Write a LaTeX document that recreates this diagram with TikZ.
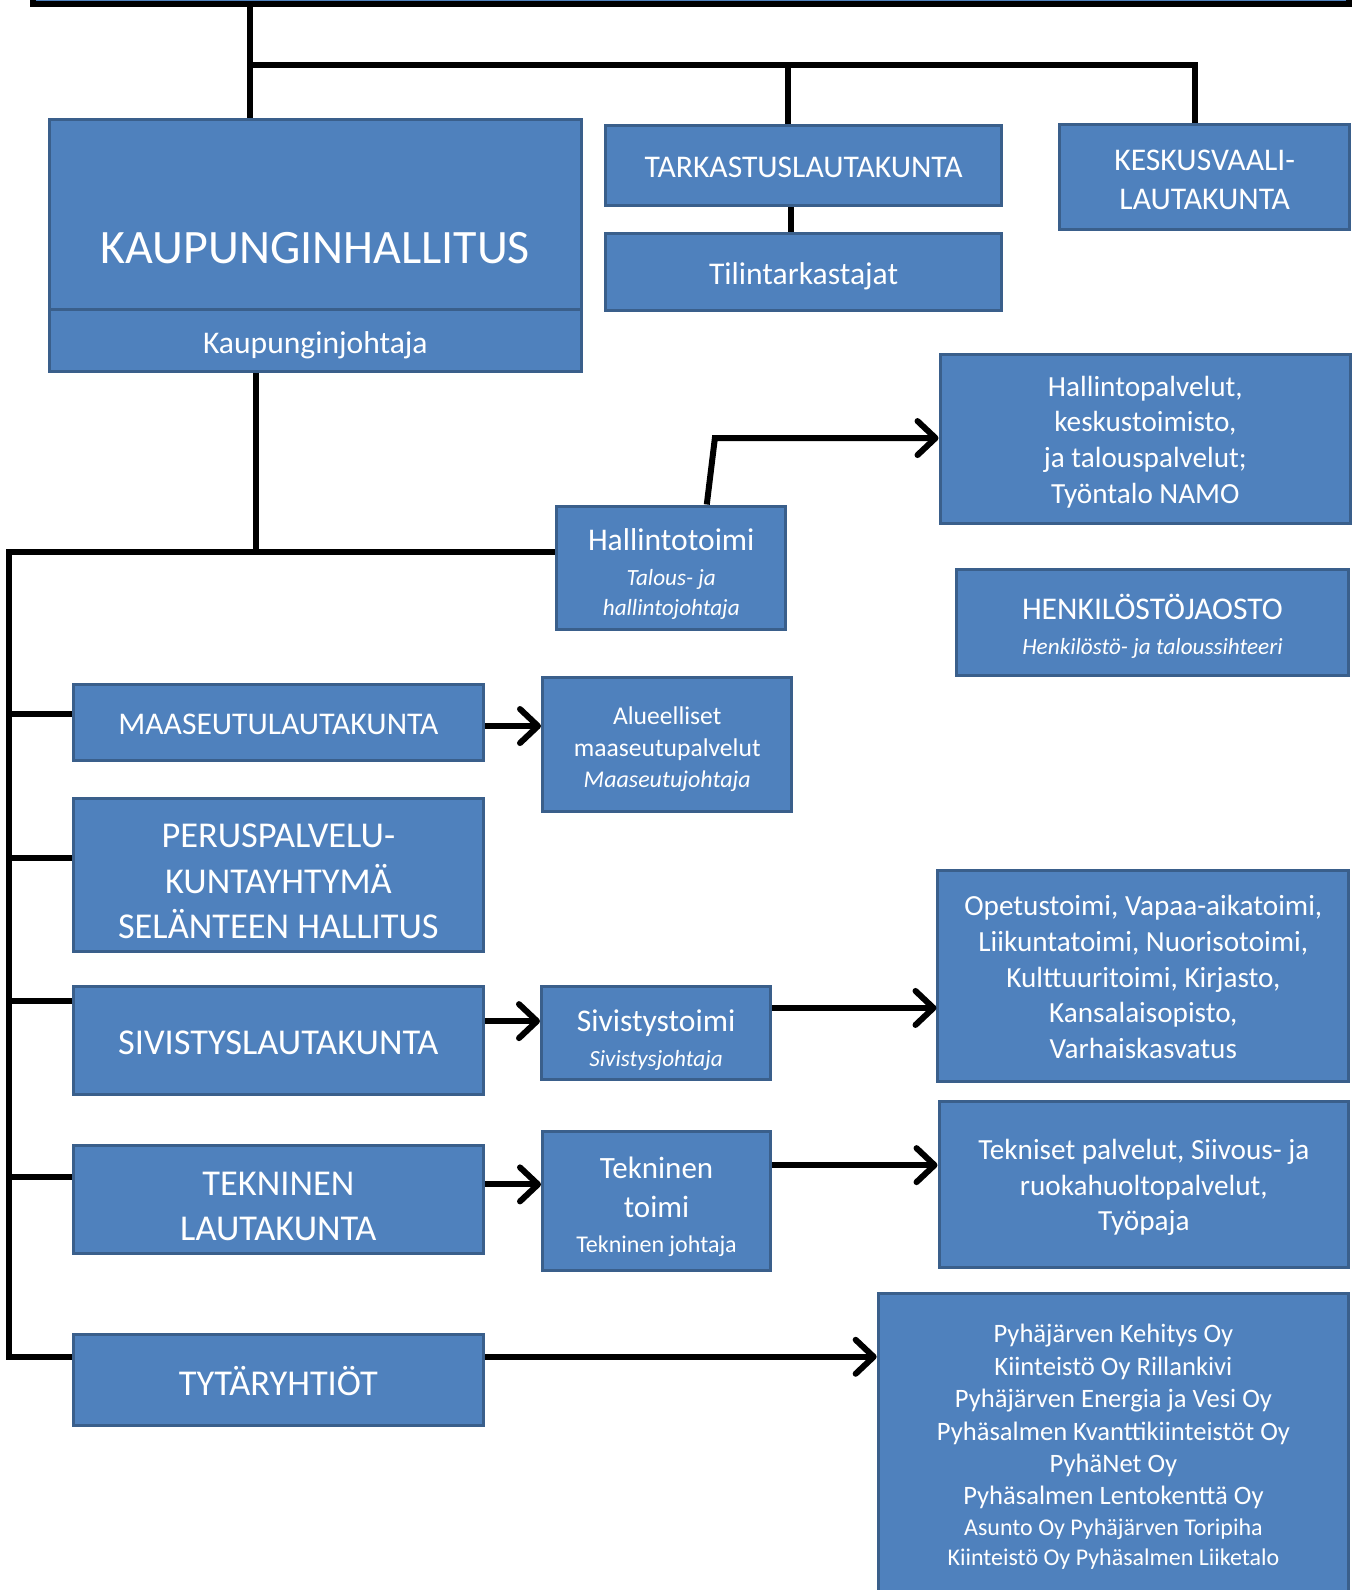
\documentclass[tikz,border=0pt]{standalone}
\usepackage{fontspec}
\setmainfont{Carlito}
\usetikzlibrary{arrows.meta}
\definecolor{boxfill}{HTML}{4F81BD}
\definecolor{boxedge}{HTML}{3A5F8B}
\newcommand\pxu{0.5071pt}
\newcommand\fsz[2]{\fontsize{#1}{#2}\selectfont}
\newcommand\sm{\itshape\fsz{11.6}{14.7}}
\tikzset{
  box/.style={draw=boxedge, line width=1.5pt, fill=boxfill, inner sep=0pt},
  lbl/.style={text=white, align=center, inner sep=0pt},
  wh/.style 2 args={minimum width=#1*\pxu, minimum height=#2*\pxu},
  conn/.style={line width=3pt},
  arr/.style={conn, -{Straight Barb[length=9pt,width=17pt,round]}},
  fkh/.style={font=\fsz{24}{28}},
  fbig/.style={font=\fsz{18.2}{22.8}},
  fmid/.style={font=\fsz{15.8}{19.3}},
  flist/.style={font=\fsz{14.6}{17.9}},
}
\begin{document}
\begin{tikzpicture}[x=0.5071pt, y=-0.5071pt]
\useasboundingbox (0,0) rectangle (1336,1568);
\node[box, draw=black, line width=3pt, wh={1297}{40}] (top) at (681.5,-16) {};
\node[box, wh={524}{248}, label={[lbl, fkh, yshift=-1.3pt]center:KAUPUNGINHALLITUS}] (kh) at (311,242) {};
\node[box, wh={524}{61}, label={[lbl, fmid, yshift=-2.5pt]center:Kaupunginjohtaja}] (kj) at (311,335.5) {};
\node[box, wh={391}{79}, label={[lbl, fmid, yshift=-1pt]center:TARKASTUSLAUTAKUNTA}] (tark) at (792.5,163.5) {};
\node[box, wh={391}{76}, label={[lbl, fmid, yshift=-2pt]center:Tilintarkastajat}] (tilin) at (792.5,268) {};
\node[box, wh={286}{103}, label={[lbl, fmid, yshift=-1.5pt]center:{KESKUSVAALI-\\LAUTAKUNTA}}] (kesk) at (1188,174.5) {};
\node[box, wh={405}{166}, label={[lbl, flist, yshift=-1.5pt]center:{Hallintopalvelut,\\keskustoimisto,\\ja talouspalvelut;\\Työntalo NAMO}}] (hpalv) at (1129.5,433) {};
\node[box, wh={226}{122}, label={[lbl, font=\fsz{15.8}{14.7}, yshift=-3pt]center:{Hallintotoimi\\[3pt]{\sm Talous- ja}\\{\sm hallintojohtaja}}}] (hallinto) at (662,560) {};
\node[box, wh={387}{104}, label={[lbl, font=\fsz{15.8}{17.7}, yshift=-2pt]center:{HENKILÖSTÖJAOSTO\\{\sm Henkilöstö- ja taloussihteeri}}}] (henk) at (1136.5,614) {};
\node[box, wh={405}{75}, label={[lbl, fmid, yshift=-1pt]center:MAASEUTULAUTAKUNTA}] (maaseutu) at (274.5,712.5) {};
\node[box, wh={246}{132}, label={[lbl, font=\fsz{12.8}{15.9}, yshift=-2.5pt]center:{Alueelliset\\maaseutupalvelut\\{\itshape\fsz{12}{15}Maaseutujohtaja}}}] (alue) at (658,734) {};
\node[box, wh={405}{151}, label={[lbl, fbig, yshift=-3.5pt]center:{PERUSPALVELU-\\KUNTAYHTYMÄ\\SELÄNTEEN HALLITUS}}] (perus) at (274.5,862.5) {};
\node[box, wh={405}{106}, label={[lbl, fbig, yshift=-1pt]center:SIVISTYSLAUTAKUNTA}] (sivistys) at (274.5,1026) {};
\node[box, wh={226}{92}, label={[lbl, font=\fsz{15.8}{17.2}, yshift=-3.5pt]center:{Sivistystoimi\\{\sm Sivistysjohtaja}}}] (sivtoimi) at (647,1019) {};
\node[box, wh={405}{209}, label={[lbl, flist, yshift=-0.5pt]center:{Opetustoimi, Vapaa-aikatoimi,\\Liikuntatoimi, Nuorisotoimi,\\Kulttuuritoimi, Kirjasto,\\Kansalaisopisto,\\Varhaiskasvatus}}] (opetus) at (1127.5,962.5) {};
\node[box, wh={405}{106}, label={[lbl, fbig, yshift=-3.5pt]center:{TEKNINEN\\LAUTAKUNTA}}] (tekn) at (274.5,1183) {};
\node[box, wh={225}{137}, label={[lbl, font=\fsz{15.5}{19.3}, yshift=-3pt]center:{Tekninen\\toimi\\[-1.5pt]{\fsz{12}{15}Tekninen johtaja}}}] (tektoimi) at (647.5,1184.5) {};
\node[box, wh={404}{164}, label={[lbl, flist, yshift=-1.5pt]center:{Tekniset palvelut, Siivous- ja\\ruokahuoltopalvelut,\\Työpaja}}] (tekpalv) at (1128,1168) {};
\node[box, wh={405}{90}, label={[lbl, fbig, yshift=-0.5pt]center:TYTÄRYHTIÖT}] (tytar) at (274.5,1361) {};
\node[box, wh={464}{298}, label={[lbl, font=\fsz{13.3}{16.2}, yshift=-1pt]center:{Pyhäjärven Kehitys Oy\\Kiinteistö Oy Rillankivi\\Pyhäjärven Energia ja Vesi Oy\\Pyhäsalmen Kvanttikiinteistöt Oy\\PyhäNet Oy\\Pyhäsalmen Lentokenttä Oy\\[-1pt]{\fsz{12}{15}Asunto Oy Pyhäjärven Toripiha}\\[-1pt]{\fsz{12}{15}Kiinteistö Oy Pyhäsalmen Liiketalo}}}] (yhtiot) at (1098,1425) {};

\coordinate (j1) at (247,64);
\coordinate (j2) at (252,544);
\draw[conn] (247,0 |- top.south) -- (247,0 |- kh.north);
\draw[conn] (j1) -- (1178,64) -- (1178,0 |- kesk.north);
\draw[conn] (777,64) -- (777,0 |- tark.north);
\draw[conn] (780,0 |- tark.south) -- (780,0 |- tilin.north);
\draw[conn] (252,0 |- kj.south) -- (j2);
\draw[conn] (hallinto.west |- j2) -- (9,544) -- (9,1338) -- (tytar.west |- 0,1338);
\foreach \n/\y in {maaseutu/704, perus/846, sivistys/987, tekn/1161}
  \draw[conn] (9,\y) -- (\n.west |- 0,\y);
\draw[arr] (hallinto.north -| 697,0) -- (705,432) -- (hpalv.west |- 0,432);
\draw[arr] (maaseutu.east |- 0,716) -- (alue.west |- 0,716);
\draw[arr] (sivistys.east |- 0,1007) -- (sivtoimi.west |- 0,1007);
\draw[arr] (sivtoimi.east |- 0,994) -- (opetus.west |- 0,994);
\draw[arr] (tekn.east |- 0,1168) -- (tektoimi.west |- 0,1168);
\draw[arr] (tektoimi.east |- 0,1149) -- (tekpalv.west |- 0,1149);
\draw[arr] (tytar.east |- 0,1338) -- (yhtiot.west |- 0,1338);
\end{tikzpicture}
\end{document}
